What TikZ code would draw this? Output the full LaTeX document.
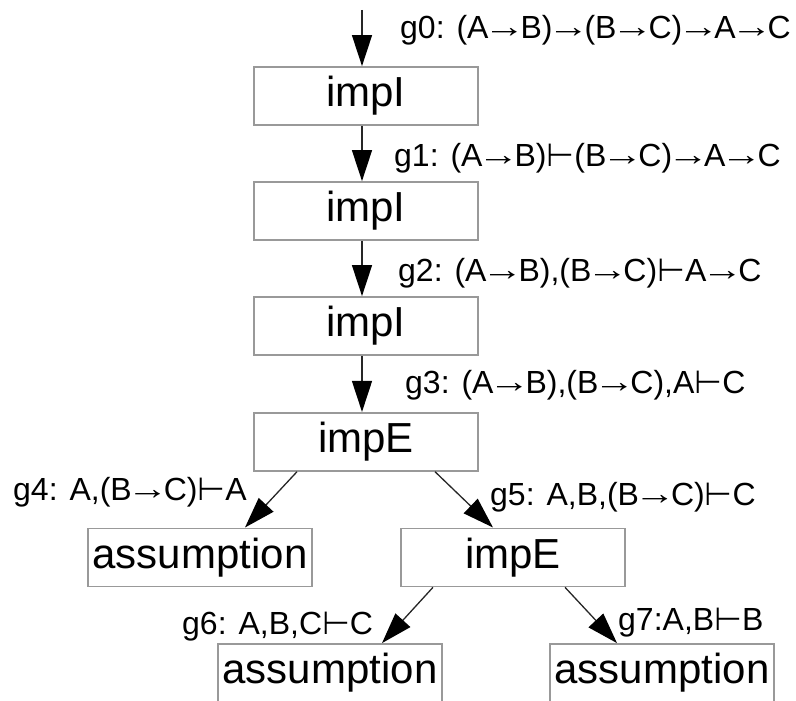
\documentclass[tikz,border=0pt]{standalone}
\usepackage{fontspec}
\usepackage{graphicx}
\setmainfont{Liberation Sans}
\newfontfamily\djfont{DejaVu Sans}
\usetikzlibrary{arrows.meta}
\newcommand\ar{\kern-0.15em\raisebox{1pt}{\scalebox{1.3}[1]{→}}\kern-0.15em}
\newcommand\vd{{\djfont ⊢}}
\definecolor{boxgray}{HTML}{999999}
\begin{document}
\begin{tikzpicture}[x=1pt,y=-1pt,
  stepbox/.style={draw=boxgray, line width=1.8pt, minimum width=224pt, minimum height=58pt,
    inner sep=0pt, font=\fontsize{42}{50}\selectfont},
  lab/.style={anchor=base west, inner sep=0pt, font=\fontsize{32}{38}\selectfont},
  arr/.style={line width=1.3pt, draw=black!85,
    -{Triangle[length=31pt,width=20pt,color=black]}}]
\useasboundingbox (0,0) rectangle (796,701);
\node[stepbox] (b1) at (366,96) {impI};
\node[stepbox] (b2) at (366,211) {impI};
\node[stepbox] (b3) at (366,326) {impI};
\node[stepbox] (b4) at (366,441.8) {impE};
\node[stepbox] (as1) at (200,557.4) {assumption};
\node[stepbox] (ie2) at (513,557.4) {impE};
\node[stepbox] (as2) at (330,673) {assumption};
\node[stepbox] (as3) at (662,673) {assumption};
\coordinate (start) at (362,10);
\draw[arr] (start) -- ([xshift=-4pt]b1.north);
\draw[arr] ([xshift=-4pt]b1.south) -- ([xshift=-4pt]b2.north);
\draw[arr] ([xshift=-4pt]b2.south) -- ([xshift=-4pt]b3.north);
\draw[arr] ([xshift=-4pt]b3.south) -- ([xshift=-4pt]b4.north);
\draw[arr] ([xshift=-69pt]b4.south) -- ([xshift=45pt]as1.north);
\draw[arr] ([xshift=69pt]b4.south) -- ([xshift=-20pt]ie2.north);
\draw[arr] ([xshift=-80pt]ie2.south) -- ([xshift=52pt]as2.north);
\draw[arr] ([xshift=52pt]ie2.south) -- ([xshift=-45pt]as3.north);
\node[lab] (g0) at (400,39) {g0: (A\ar B)\ar(B\ar C)\ar A\ar C};
\node[lab] (g1) at (394,166) {g1: (A\ar B)\vd(B\ar C)\ar A\ar C};
\node[lab] (g2) at (398,281) {g2: (A\ar B),(B\ar C)\vd A\ar C};
\node[lab] (g3) at (405,393) {g3: (A\ar B),(B\ar C),A\vd C};
\node[lab] (g4) at (13,500) {g4: A,(B\ar C)\vd A};
\node[lab] (g5) at (490,505) {g5: A,B,(B\ar C)\vd C};
\node[lab] (g6) at (182,634) {g6: A,B,C\vd C};
\node[lab] (g7) at (618,630) {g7:A,B\vd B};
\end{tikzpicture}
\end{document}
